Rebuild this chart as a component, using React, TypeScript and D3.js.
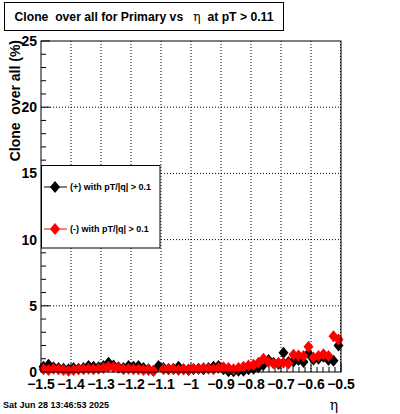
import React from "react";
import * as d3 from "d3";

const W = 400;
const H = 414;

const xDomain: [number, number] = [-1.5, -0.5];
const yDomain: [number, number] = [0, 25];
const nBins = 60;

const xTickValues = [-1.5, -1.4, -1.3, -1.2, -1.1, -1, -0.9, -0.8, -0.7, -0.6, -0.5];
const yTickValues = [0, 5, 10, 15, 20, 25];

// (+) with pT/|q| > 0.1  (black)
const posValues = [
  0.4, 0.55, 0.35, 0.3, 0.25, 0.2, 0.3, 0.25, 0.3, 0.45,
  0.4, 0.35, 0.45, 0.7, 0.5, 0.35, 0.3, 0.45, 0.4, 0.45,
  0.3, 0.2, 0.1, 0.45, 0.3, 0.2, 0.25, 0.4, 0.2, 0.15,
  0.2, 0.25, 0.2, 0.3, 0.4, 0.45, 0.2, 0.05, 0.05, 0.1,
  0.1, 0.2, 0.25, 0.35, 0.55, 0.9, 0.7, 0.6, 1.45, 0.75,
  0.8, 0.9, 0.75, 1.4, 0.95, 1.0, 1.15, 0.9, 0.85, 2.0,
];
const posErrors = [
  0.1, 0.12, 0.1, 0.1, 0.08, 0.08, 0.1, 0.08, 0.1, 0.1,
  0.1, 0.1, 0.1, 0.12, 0.1, 0.1, 0.1, 0.1, 0.1, 0.1,
  0.1, 0.08, 0.06, 0.1, 0.1, 0.08, 0.08, 0.1, 0.08, 0.08,
  0.08, 0.08, 0.08, 0.1, 0.1, 0.1, 0.08, 0.05, 0.05, 0.06,
  0.06, 0.08, 0.1, 0.12, 0.15, 0.2, 0.18, 0.18, 0.25, 0.2,
  0.2, 0.22, 0.2, 0.25, 0.22, 0.22, 0.25, 0.22, 0.22, 0.35,
];

// (-) with pT/|q| > 0.1  (red)
const negValues: (number | null)[] = [
  0.2, 0.15, 0.25, 0.2, 0.15, 0.1, 0.15, 0.2, 0.2, 0.25,
  0.2, 0.25, 0.3, 0.4, 0.35, 0.3, 0.2, 0.25, 0.2, 0.2,
  0.15, 0.15, 0.1, null, 0.2, 0.25, 0.2, 0.15, 0.2, 0.2,
  0.25, 0.25, 0.3, 0.25, 0.2, 0.3, 0.35, 0.3, 0.2, 0.3,
  0.4, 0.5, 0.55, 0.7, 1.0, 0.75, 0.65, 0.7, 0.7, 0.65,
  1.3, 1.25, 1.2, 1.9, 1.1, 1.2, 1.35, 1.2, 2.7, 2.45,
];
const negErrors = [
  0.08, 0.08, 0.1, 0.08, 0.08, 0.06, 0.08, 0.08, 0.08, 0.1,
  0.08, 0.1, 0.1, 0.12, 0.1, 0.1, 0.08, 0.1, 0.08, 0.08,
  0.08, 0.08, 0.06, 0.0, 0.08, 0.1, 0.08, 0.08, 0.08, 0.08,
  0.1, 0.1, 0.1, 0.1, 0.08, 0.1, 0.1, 0.1, 0.08, 0.1,
  0.12, 0.14, 0.15, 0.18, 0.22, 0.2, 0.18, 0.18, 0.2, 0.2,
  0.25, 0.25, 0.25, 0.3, 0.25, 0.25, 0.28, 0.25, 0.4, 0.35,
];

const seriesNames = ["(+) with pT/|q| > 0.1", "(-) with pT/|q| > 0.1"];
const seriesColors = ["#000000", "#ff0000"];

const titleParts = ["Clone  over all for Primary vs   ", "\u03b7", "  at pT > 0.11"];
const yTitle = "Clone  over all (%)";
const xTitle = "\u03b7";
const dateText = "Sat Jun 28 13:46:53 2025";

const FONT = "'Liberation Sans', Arial, Helvetica, sans-serif";

const M = { left: 41, right: 341, top: 41, bottom: 372 };

function Diamond({ cx, cy, color }: { cx: number; cy: number; color: string }) {
  const w = 5;
  const h = 6;
  return (
    <path
      d={`M${cx},${cy - h}L${cx + w},${cy}L${cx},${cy + h}L${cx - w},${cy}Z`}
      fill={color}
    />
  );
}

export default function App() {
  const x = d3.scaleLinear().domain(xDomain).range([M.left, M.right]);
  const y = d3.scaleLinear().domain(yDomain).range([M.bottom, M.top]);
  const binW = (xDomain[1] - xDomain[0]) / nBins;
  const centers = d3.range(nBins).map((i) => xDomain[0] + (i + 0.5) * binW);

  const xMinor = d3.range(0, 51).map((i) => xDomain[0] + i * 0.02);
  const yMinor = d3.range(0, 26);

  const fmt = (v: number) => {
    const s = d3.format("")(Math.round(v * 10) / 10);
    return s.replace("-", "\u2212");
  };

  const series = [
    { vals: posValues as (number | null)[], errs: posErrors, color: seriesColors[0] },
    { vals: negValues, errs: negErrors, color: seriesColors[1] },
  ];

  return (
    <svg
      width={W}
      height={H}
      style={{ position: "absolute", left: 0, top: 0, background: "#fff" }}
      fontFamily={FONT}
      xmlSpace="preserve"
    >
      <rect x={0} y={0} width={W} height={H} fill="#fff" />

      {/* grid */}
      {xTickValues.slice(1, -1).map((v) => (
        <line key={"gx" + v} x1={x(v)} x2={x(v)} y1={M.top} y2={M.bottom} stroke="#000" strokeWidth={1} strokeDasharray="1,2" />
      ))}
      <line x1={M.right - 0.5} x2={M.right - 0.5} y1={M.top} y2={M.bottom} stroke="#000" strokeWidth={1} strokeDasharray="1,2" />
      {yTickValues.slice(1, -1).map((v) => (
        <line key={"gy" + v} x1={M.left} x2={M.right} y1={y(v)} y2={y(v)} stroke="#000" strokeWidth={1} strokeDasharray="1,2" />
      ))}

      {/* ticks */}
      {xMinor.map((v, i) => (
        <line key={"xm" + i} x1={x(v)} x2={x(v)} y1={M.bottom} y2={M.bottom - (i % 5 === 0 ? 9 : 5)} stroke="#000" />
      ))}
      {yMinor.map((v) => (
        <line key={"ym" + v} x1={M.left} x2={M.left + (v % 5 === 0 ? 9 : 5)} y1={y(v)} y2={y(v)} stroke="#000" />
      ))}

      {/* data */}
      {series.map((s, si) => (
        <g key={"s" + si}>
          {centers.map((c, i) => {
            const v = s.vals[i];
            if (v === null || v === undefined) return null;
            const e = s.errs[i];
            return (
              <g key={i}>
                <line x1={x(c)} x2={x(c)} y1={y(Math.max(0, v - e))} y2={y(v + e)} stroke={s.color} strokeWidth={1} />
                <Diamond cx={x(c)} cy={y(v)} color={s.color} />
              </g>
            );
          })}
        </g>
      ))}

      {/* frame */}
      <rect x={M.left} y={M.top} width={M.right - M.left} height={M.bottom - M.top} fill="none" stroke="#000" strokeWidth={1} />

      {/* tick labels */}
      {xTickValues.map((v) => (
        <text key={"xl" + v} x={x(v)} y={389} textAnchor="middle" fontSize={14} fontWeight="bold">
          {fmt(v)}
        </text>
      ))}
      {yTickValues.map((v) => (
        <text key={"yl" + v} x={37} y={y(v) + 5} textAnchor="end" fontSize={14} fontWeight="bold">
          {v}
        </text>
      ))}

      {/* axis titles */}
      <text x={0} y={0} transform={`translate(20,${M.top - 1}) rotate(-90)`} textAnchor="end" fontSize={14} fontWeight="bold" style={{ whiteSpace: "pre" }}>
        {yTitle}
      </text>
      <text x={334} y={410} textAnchor="middle" fontSize={14} fontFamily="'DejaVu Serif', serif">
        {xTitle}
      </text>

      {/* legend */}
      <rect x={41.5} y={165.5} width={118.5} height={82.5} fill="#fff" stroke="#000" strokeWidth={1} />
      {seriesNames.map((n, i) => {
        const ly = i === 0 ? 187 : 229;
        return (
          <g key={"lg" + i}>
            <line x1={44} x2={67} y1={ly} y2={ly} stroke={seriesColors[i]} strokeWidth={1} />
            <Diamond cx={55} cy={ly} color={seriesColors[i]} />
            <text x={70} y={ly + 3} fontSize={9} fontWeight="bold">
              {n}
            </text>
          </g>
        );
      })}

      {/* title */}
      <rect x={4.5} y={2.5} width={279} height={28} fill="#fff" stroke="#000" strokeWidth={1} />
      <text x={144} y={21} textAnchor="middle" fontSize={12.2} fontWeight="bold" style={{ whiteSpace: "pre" }}>
        <tspan>{titleParts[0]}</tspan>
        <tspan fontWeight="normal" fontFamily="'DejaVu Serif', serif">{titleParts[1]}</tspan>
        <tspan>{titleParts[2]}</tspan>
      </text>

      {/* date */}
      <text x={3} y={408} fontSize={9} fontWeight="bold">
        {dateText}
      </text>
    </svg>
  );
}
